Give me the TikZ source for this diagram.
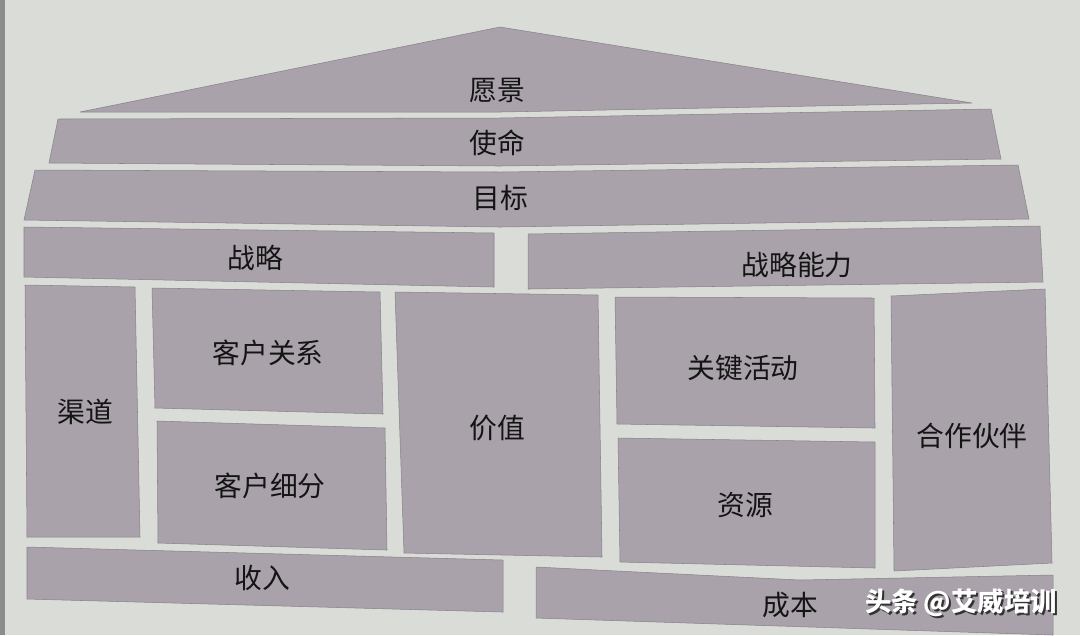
\documentclass[tikz,border=0pt]{standalone}
\usepackage{fontspec}
\newfontfamily\cjk{Noto Sans CJK SC}
\definecolor{paper}{HTML}{DADDD7}
\definecolor{panel}{HTML}{AAA2AB}

\begin{document}
\begin{tikzpicture}[x=0.01cm,y=-0.01cm]
  \tikzstyle{Block}=[fill=panel,draw=panel!80!black,line width=0.15pt]
  \tikzstyle{Label}=[font=\cjk\fontsize{7.9}{9}\selectfont,text=black!92,inner sep=0pt]
  \tikzstyle{Mark}=[font=\cjk\bfseries\fontsize{7.5}{9}\selectfont,inner sep=0pt]

  \fill[paper] (0,0) rectangle (1080,635);
  \useasboundingbox (0,0) rectangle (1080,635);
  \fill[black!45] (0,0) rectangle (5,635);

  % roof
  \fill[Block] (80,112) -- (500,27) -- (972,103) -- (500,112) -- cycle;
  \fill[Block] (58,119) -- (500,118) -- (991,109) -- (1001,159) -- (500,166) -- (49,163) -- cycle;
  \fill[Block] (35,170) -- (500,172) -- (1018,165) -- (1029,219) -- (500,227) -- (24,220) -- cycle;
  \fill[Block] (24,227) -- (494,233) -- (494,287) -- (24,277) -- cycle;
  \fill[Block] (528,234) -- (1040,226) -- (1043,282) -- (528,289) -- cycle;

  % body
  \fill[Block] (25,285) -- (135,287) -- (140,537) -- (27,537) -- cycle;
  \fill[Block] (152,288) -- (380,292) -- (383,414) -- (155,408) -- cycle;
  \fill[Block] (157,421) -- (385,428) -- (387,550) -- (158,543) -- cycle;
  \fill[Block] (395,292) -- (598,295) -- (602,557) -- (404,553) -- cycle;
  \fill[Block] (615,297) -- (874,298) -- (875,428) -- (617,424) -- cycle;
  \fill[Block] (618,438) -- (875,442) -- (875,568) -- (620,562) -- cycle;
  \fill[Block] (891,296) -- (1045,289) -- (1052,563) -- (894,571) -- cycle;

  % floor
  \fill[Block] (27,547) -- (503,560) -- (503,612) -- (27,599) -- cycle;
  \fill[Block] (536,567) -- (800,580) -- (1053,575) -- (1053,635) -- (536,618) -- cycle;

  \node[Label] (yuanjing) at (497,90) {愿景};
  \node[Label] (shiming) at (497,143) {使命};
  \node[Label] (mubiao) at (500,198) {目标};
  \node[Label] (zhanlue) at (255,258) {战略};
  \node[Label] (nengli) at (797,265) {战略能力};
  \node[Label] (qudao) at (85,412) {渠道};
  \node[Label] (guanxi) at (268,353) {客户关系};
  \node[Label] (xifen) at (270,486) {客户细分};
  \node[Label] (jiazhi) at (497,428) {价值};
  \node[Label] (huodong) at (743,368) {关键活动};
  \node[Label] (ziyuan) at (745,505) {资源};
  \node[Label] (huoban) at (972,436) {合作伙伴};
  \node[Label] (shouru) at (262,578) {收入};
  \node[Label] (chengben) at (790,605) {成本};

  \node[Mark,text=black!80] at (963,605) {头条 @艾威培训};
  \node[Mark,text=white] (mark) at (961,603) {头条 @艾威培训};
\end{tikzpicture}
\end{document}
